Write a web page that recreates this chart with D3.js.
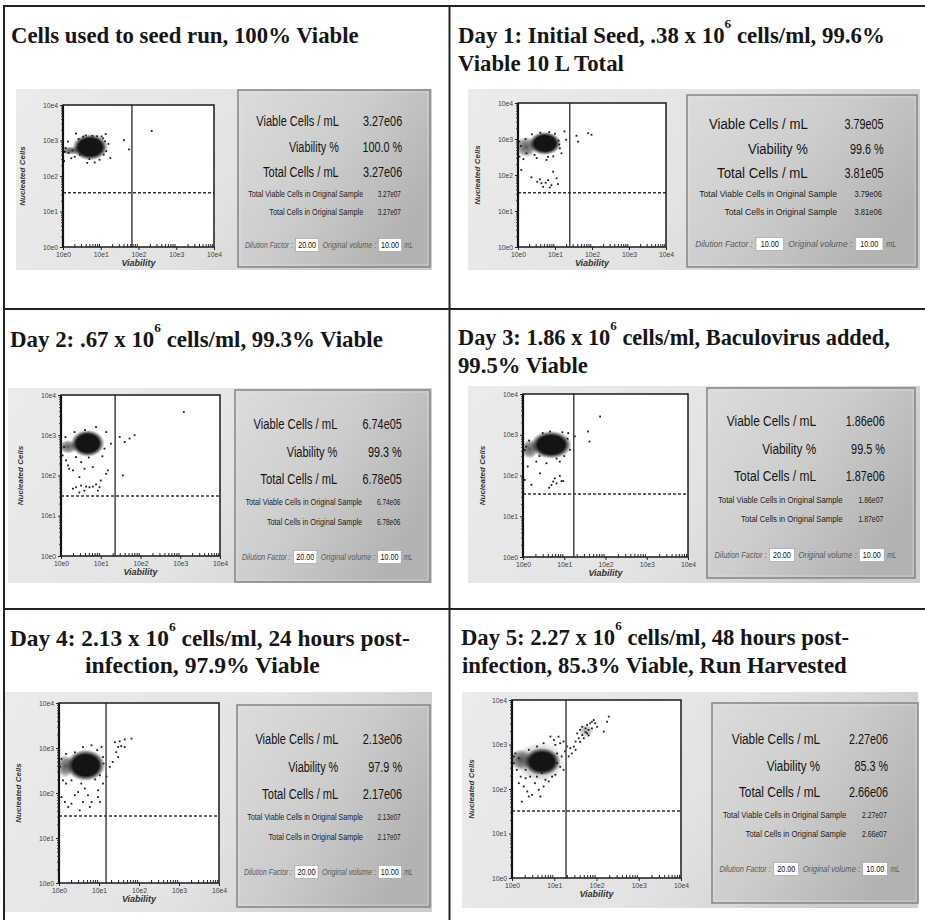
<!DOCTYPE html>
<html><head><meta charset="utf-8">
<script src="https://cdn.jsdelivr.net/npm/d3@7/dist/d3.min.js"></script>
<style>body{margin:0;background:#fff}</style>
</head><body>
<svg id="c" width="925" height="920"></svg>
<script>
// ---------------- DATA ----------------
const titleLines = [
  ["Cells used to seed run, 100% Viable"],
  ["Day 1: Initial Seed, .38 x 10^6 cells/ml, 99.6%", "Viable 10 L Total"],
  ["Day 2: .67 x 10^6 cells/ml, 99.3% Viable"],
  ["Day 3: 1.86 x 10^6 cells/ml, Baculovirus added,", "99.5% Viable"],
  ["Day 4: 2.13 x 10^6 cells/ml, 24 hours post-", "infection, 97.9% Viable"],
  ["Day 5: 2.27 x 10^6 cells/ml, 48 hours post-", "infection, 85.3% Viable, Run Harvested"]
];
const viableCells     = ["3.27e06", "3.79e05", "6.74e05", "1.86e06", "2.13e06", "2.27e06"];
const viabilityPct    = ["100.0 %", "99.6 %", "99.3 %", "99.5 %", "97.9 %", "85.3 %"];
const totalCells      = ["3.27e06", "3.81e05", "6.78e05", "1.87e06", "2.17e06", "2.66e06"];
const totalViableOrig = ["3.27e07", "3.79e06", "6.74e06", "1.86e07", "2.13e07", "2.27e07"];
const totalOrig       = ["3.27e07", "3.81e06", "6.78e06", "1.87e07", "2.17e07", "2.66e07"];
const dilutionFactor  = ["20.00", "10.00", "20.00", "20.00", "20.00", "20.00"];
const originalVolume  = ["10.00", "10.00", "10.00", "10.00", "10.00", "10.00"];
const infoLabels = ["Viable Cells / mL", "Viability %", "Total Cells / mL",
                    "Total Viable Cells in Original Sample", "Total Cells in Original Sample"];
const axisTicks  = [1, 10, 100, 1000, 10000];
const tickLabels = ["10e0", "10e1", "10e2", "10e3", "10e4"];
const xAxisTitle = "Viability";
const yAxisTitle = "Nucleated Cells";
const viabilityGate = [67, 25, 23, 17, 15, 19];
const nucleatedGate = [34, 32, 31, 35, 31, 32];

// dense clusters, as value ranges
const seedCores = [{x0:2.4,x1:11.5,y0:350,y1:1200,kind:"core"},{x0:1,x1:2.6,y0:420,y1:640,kind:"tail"}];
const day1Cores = [{x0:2.6,x1:11,y0:440,y1:1300,kind:"core"},{x0:1,x1:2.8,y0:360,y1:1000,kind:"tail"}];
const day2Cores = [{x0:2.3,x1:9.5,y0:360,y1:1100,kind:"core"},{x0:1,x1:2.3,y0:380,y1:700,kind:"tail"}];
const day3Cores = [{x0:2.1,x1:11,y0:320,y1:1000,kind:"core"},{x0:1,x1:2.1,y0:290,y1:680,kind:"tail"}];
const day4Cores = [{x0:2.05,x1:10.5,y0:230,y1:740,kind:"core"},{x0:1,x1:2.1,y0:250,y1:620,kind:"tail"}];
const day5Cores = [{x0:2.5,x1:10.6,y0:245,y1:690,kind:"core"},{x0:1,x1:2.6,y0:300,y1:700,kind:"tail"},
                   {x0:1.4,x1:15,y0:160,y1:1000,kind:"halo"},{x0:40,x1:80,y0:1500,y1:2700,kind:"halo"}];

// scattered events [viability, nucleated]
const seedPoints = [[2.2,1580],[13.5,1510],[41,1020],[56,560],[224,1860],[18,320],[1.07,263],[1.66,316],[2.04,347],
  [4.4,234],[6.9,240],[9.3,288],[1.17,617],[1.35,933],[11.5,1150],[3.4,1290],[14,500],[16,800],[8,1320],[2.8,400],
  [5,300],[1.4,450],[1.8,525],[1.12,480],[2.4,630],[12,400],[10.5,1300],[6,1350],[2.6,1100],[4,1400],[13,950]];
const day1Points = [[18,1620],[38,1230],[42,850],[79,1450],[97,1310],[13.5,550],[15,400],[1.23,138],[2.3,86],[3.3,65],
  [4.3,59],[5.6,61],[6.5,72],[8,52],[7.2,45],[8.9,124],[11,81],[12,56],[4.8,47],[3.9,76],[1.1,324],[1.4,275],[1.7,400],
  [3.2,295],[5.9,263],[1.1,850],[1.2,640],[20,950],[2.4,1350],[4,1500],[7,1550],[10,1400],[12.5,900],[13,700],[9,330],
  [6.5,320],[2.8,360],[1.6,1000]];
const day2Points = [[1.2,510],[1.1,316],[1.35,238],[1.6,147],[1.5,178],[2.4,288],[3.2,214],[2,134],[2.9,91],[3.9,147],
  [6.3,162],[2,47],[2.4,51],[3.2,56],[4.3,53],[5.2,51],[6.3,53],[7.6,60],[9.3,51],[8.5,42],[10,75],[13.7,110],[15,134],
  [2.9,38],[3.9,42],[36,100],[30,910],[40,680],[53,830],[71,1000],[1230,3800],[13.7,1200],[12.4,465],[18,620],[2.2,1200],
  [7.6,1600],[11,300],[5,280],[1.3,900],[4,1350]];
const day3Points = [[1.3,166],[1.1,78],[1.6,59],[2.6,113],[4.9,59],[5.4,71],[6.5,64],[7.8,98],[8.6,73],[9.4,73],[4.3,50],
  [5.9,85],[18,910],[38,1200],[41,680],[74,2800],[2.1,219],[3.7,200],[7.8,219],[6.5,260],[13.7,427],[12.5,1100],[4.5,1200],
  [1.2,510],[9,1150],[3,1100],[12,800],[2.5,300],[10,300],[1.1,420],[1.4,720]];
const day4Points = [[25,1350],[33,1410],[44,1550],[65,1620],[30,1050],[36,1100],[44,1050],[27,810],[30,630],[22,490],
  [18.6,380],[15.4,230],[10.5,247],[12.6,162],[1.26,191],[1.5,162],[1.15,81],[1.4,63],[1.7,49],[2.05,58],[2.5,89],[3,105],
  [3.3,41],[4,63],[4.4,126],[5.3,89],[5.9,49],[6.5,63],[9.5,115],[9.5,81],[10.5,63],[3.6,162],[2.05,191],[1.05,380],
  [1.15,575],[1.5,740],[4,1050],[6.5,1150],[11.5,1050],[12.6,630],[13,450],[8,200],[2.5,800],[9,900]];
const day5Points = [[35,1780],[41,2130],[46,1630],[55,2300],[60,2750],[65,2130],[71,3000],[78,3250],[86,3550],[93,3000],
  [50,1380],[38,1380],[32,1170],[60,1780],[78,2300],[103,2500],[178,3250],[195,4250],[148,1950],[29,900],[41,1150],
  [55,1900],[46,2500],[65,1600],[12.6,1500],[13.8,1070],[16.6,1170],[20,900],[18,700],[24,830],[22,540],[26,630],
  [15,540],[32,760],[9.8,1260],[10.6,980],[5.6,1070],[1.1,540],[1.1,380],[1.2,630],[1.3,270],[1.6,190],[1.45,135],
  [1.9,114],[1.7,52],[2.3,88],[2.5,68],[3,74],[3.5,135],[4.3,96],[4.7,68],[5.6,114],[6.2,162],[7.4,148],[8.9,190],
  [10.6,209],[13.8,316],[16.6,270],[11.7,380],[2.1,174],[2.7,190],[3.9,190],[5.1,229],[2.1,270],[8.1,316],[2.5,760],
  [3.9,900],[8.1,1510],[11.7,630],[1.45,490]];

const panelCores  = [seedCores, day1Cores, day2Cores, day3Cores, day4Cores, day5Cores];
const panelPoints = [seedPoints, day1Points, day2Points, day3Points, day4Points, day5Points];

// ---------------- LAYOUT (positions only) ----------------
const layout = [
  {title:[{x:11,y:43,w:348}], bg:[16,89,432,270], plot:[63,105,214,247], info:[238,90,430,267], rows:[120,245]},
  {title:[{x:458,y:43,w:427},{x:458,y:71,w:166}], bg:[468,89,920,270], plot:[518,103,666,247], info:[687,95,917,267], rows:[123,244]},
  {title:[{x:10,y:347,w:373}], bg:[8,388,432,583], plot:[61,395,220,556], info:[235,390,430,582], rows:[423,557]},
  {title:[{x:458,y:345,w:432},{x:458,y:373,w:130}], bg:[468,386,920,583], plot:[523,394,688,557], info:[707,388,915,578], rows:[420,555]},
  {title:[{x:10,y:646,w:400},{x:85,y:673,w:235}], bg:[4,692,432,912], plot:[59,703,219,883], info:[237,705,430,907], rows:[738,872]},
  {title:[{x:461,y:645,w:388},{x:462,y:673,w:385}], bg:[462,692,918,908], plot:[512,700,681,878], info:[712,703,918,903], rows:[738,869]}
];

// ---------------- DRAW ----------------
const svg = d3.select("#c");
const defs = svg.append("defs");
const bgG = defs.append("linearGradient").attr("id","bgG").attr("x1",0).attr("y1",0).attr("x2",1).attr("y2",0.3);
[[0,"#ebebeb"],[0.6,"#e3e3e3"],[1,"#cdcdcd"]].forEach(s=>bgG.append("stop").attr("offset",s[0]).attr("stop-color",s[1]));
const infG = defs.append("linearGradient").attr("id","infG").attr("x1",0).attr("y1",0).attr("x2",1).attr("y2",0.6);
[[0,"#dcdcdc"],[0.5,"#cdcdcd"],[1,"#b2b2b2"]].forEach(s=>infG.append("stop").attr("offset",s[0]).attr("stop-color",s[1]));
const radial = (id, stops) => {
  const r = defs.append("radialGradient").attr("id", id);
  stops.forEach(s => r.append("stop").attr("offset", s[0]).attr("stop-color", "#141414").attr("stop-opacity", s[1]));
};
radial("coreG", [[0,1],[0.66,1],[0.8,0.6],[0.92,0.2],[1,0]]);
radial("tailG", [[0,0.7],[0.6,0.45],[1,0]]);
radial("haloG", [[0,0.35],[0.6,0.22],[1,0]]);

const SANS = "'Liberation Sans', Arial, sans-serif";
const SERIF = "'Liberation Serif', 'Times New Roman', serif";

// text squeezed horizontally by a transform: fixed width (w) or fixed factor (k)
function sqText(parent, x, y, txt, o) {
  const gg = parent.append("g");
  const t = gg.append("text").attr("x", 0).attr("y", 0).attr("dy", "0.36em")
    .attr("text-anchor", o.anchor || "start").attr("font-family", SANS)
    .attr("font-size", o.size).attr("fill", o.fill || "#141414").text(txt);
  if (o.italic) t.attr("font-style", "italic");
  const len = t.node().getComputedTextLength();
  const k = o.w != null ? o.w / len : o.k;
  gg.attr("transform", `translate(${x},${y}) scale(${k},1)`);
  return gg;
}

layout.forEach((L, i) => {
  const g = svg.append("g");

  // ---- title ----
  L.title.forEach((ln, j) => {
    const tg = g.append("g");
    const t = tg.append("text").attr("x", 0).attr("y", 0)
      .attr("font-family", SERIF).attr("font-weight", "bold").attr("font-size", 23).attr("fill", "#161616");
    const parts = titleLines[i][j].split(/\^(\d)/);
    parts.forEach((p, k) => {
      if (k % 2 === 1) {
        t.append("tspan").attr("font-size", "0.58em").attr("dy", "-1.15em").text(p);
      } else if (p.length) {
        const ts = t.append("tspan").text(p);
        if (k > 0) ts.attr("dy", "0.667em");
      }
    });
    const len = t.node().getComputedTextLength();
    tg.attr("transform", `translate(${ln.x},${ln.y}) scale(${ln.w / len},1)`);
  });

  // ---- backdrop ----
  const [bx0, by0, bx1, by1] = L.bg;
  g.append("rect").attr("x", bx0).attr("y", by0).attr("width", bx1 - bx0).attr("height", by1 - by0).attr("fill", "url(#bgG)");

  // ---- plot ----
  const [px0, py0, px1, py1] = L.plot;
  const x = d3.scaleLog().domain([1, 1e4]).range([px0, px1]);
  const y = d3.scaleLog().domain([1, 1e4]).range([py1, py0]);
  g.append("rect").attr("x", px0).attr("y", py0).attr("width", px1 - px0).attr("height", py1 - py0).attr("fill", "#fff");

  const clipId = "clip" + i;
  defs.append("clipPath").attr("id", clipId).append("rect")
    .attr("x", px0).attr("y", py0).attr("width", px1 - px0).attr("height", py1 - py0);
  const pg = g.append("g").attr("clip-path", `url(#${clipId})`);

  const order = {halo: 0, tail: 1, core: 2};
  const grow = {halo: 1.15, tail: 1.3, core: 1.4};
  panelCores[i].slice().sort((a, b) => order[a.kind] - order[b.kind]).forEach(c => {
    const cx = (x(c.x0) + x(c.x1)) / 2, rx = (x(c.x1) - x(c.x0)) / 2;
    const cy = (y(c.y0) + y(c.y1)) / 2, ry = (y(c.y0) - y(c.y1)) / 2;
    pg.append("ellipse").attr("cx", cx).attr("cy", cy)
      .attr("rx", rx * grow[c.kind]).attr("ry", ry * grow[c.kind])
      .attr("fill", `url(#${c.kind}G)`);
  });

  pg.selectAll("rect.pt").data(panelPoints[i]).enter().append("rect").attr("class", "pt")
    .attr("x", d => x(d[0]) - 0.9).attr("y", d => y(d[1]) - 0.9)
    .attr("width", 1.8).attr("height", 1.8).attr("fill", "#1c1c1c");

  // gates
  g.append("line").attr("x1", x(viabilityGate[i])).attr("x2", x(viabilityGate[i]))
    .attr("y1", py0).attr("y2", py1).attr("stroke", "#444").attr("stroke-width", 1.5);
  g.append("line").attr("x1", px0).attr("x2", px1)
    .attr("y1", y(nucleatedGate[i])).attr("y2", y(nucleatedGate[i]))
    .attr("stroke", "#333").attr("stroke-width", 1.5).attr("stroke-dasharray", "3,2");

  // frame
  g.append("rect").attr("x", px0).attr("y", py0).attr("width", px1 - px0).attr("height", py1 - py0)
    .attr("fill", "none").attr("stroke", "#1a1a1a").attr("stroke-width", 1.5);
  g.append("line").attr("x1", px0).attr("x2", px0).attr("y1", py0).attr("y2", py1)
    .attr("stroke", "#111").attr("stroke-width", 2.2);

  // axes
  const minor = x.ticks().filter(v => Math.abs(Math.round(Math.log10(v)) - Math.log10(v)) > 1e-6);
  const styleAxis = a => {
    a.select(".domain").remove();
    a.selectAll("line").attr("stroke", "#222");
    a.selectAll("text").attr("font-family", SANS).attr("font-size", 6.8).attr("fill", "#444");
  };
  g.append("g").attr("transform", `translate(0,${py1})`)
    .call(d3.axisBottom(x).tickValues(axisTicks).tickFormat((d, k) => tickLabels[k]).tickSize(3).tickPadding(2))
    .call(styleAxis);
  g.append("g").attr("transform", `translate(0,${py1})`)
    .call(d3.axisBottom(x).tickValues(minor).tickFormat("").tickSize(-3)).call(styleAxis);
  g.append("g").attr("transform", `translate(${px0},0)`)
    .call(d3.axisLeft(y).tickValues(axisTicks).tickFormat((d, k) => tickLabels[k]).tickSize(3).tickPadding(2))
    .call(styleAxis);
  g.append("g").attr("transform", `translate(${px0},0)`)
    .call(d3.axisLeft(y).tickValues(minor).tickFormat("").tickSize(1.8)).call(styleAxis);

  g.append("text").attr("x", (px0 + px1) / 2).attr("y", py1 + 19).attr("text-anchor", "middle")
    .attr("font-family", SANS).attr("font-weight", "bold").attr("font-style", "italic")
    .attr("font-size", 9).attr("fill", "#333").text(xAxisTitle);
  g.append("text").attr("transform", `translate(${px0 - 38},${(py0 + py1) / 2}) rotate(-90)`)
    .attr("text-anchor", "middle").attr("font-family", SANS).attr("font-weight", "bold")
    .attr("font-style", "italic").attr("font-size", 8).attr("fill", "#333").text(yAxisTitle);

  // ---- info box ----
  const [ix0, iy0, ix1, iy1] = L.info;
  const W = ix1 - ix0;
  g.append("rect").attr("x", ix0).attr("y", iy0).attr("width", W).attr("height", iy1 - iy0)
    .attr("fill", "url(#infG)").attr("stroke", "#8a8a8a").attr("stroke-width", 1.6);
  g.append("rect").attr("x", ix0 + 2).attr("y", iy0 + 2).attr("width", W - 4).attr("height", iy1 - iy0 - 4)
    .attr("fill", "none").attr("stroke", "#e6e6e6").attr("stroke-width", 0.8).attr("opacity", 0.6);

  const [r0, r1] = L.rows;
  const fr = [0, 0.21, 0.41, 0.59, 0.735, 1];
  const ry = k => r0 + fr[k] * (r1 - r0);
  const bigVals = [viableCells[i], viabilityPct[i], totalCells[i]];
  const bigW = [0.43, 0.26, 0.395];
  bigVals.forEach((v, k) => {
    sqText(g, ix0 + 0.525 * W, ry(k), infoLabels[k], {anchor: "end", size: 15.5, w: bigW[k] * W});
    sqText(g, ix0 + 0.855 * W, ry(k), v, {anchor: "end", size: 15.5, k: 0.7});
  });
  const smallVals = [totalViableOrig[i], totalOrig[i]];
  const smallW = [0.6, 0.49];
  smallVals.forEach((v, k) => {
    sqText(g, ix0 + 0.652 * W, ry(k + 3), infoLabels[k + 3], {anchor: "end", size: 8.5, fill: "#1c1c1c", w: smallW[k] * W});
    sqText(g, ix0 + 0.848 * W, ry(k + 3), v, {anchor: "end", size: 8.5, fill: "#1c1c1c", w: 0.12 * W});
  });
  // dilution row
  const dy5 = ry(5);
  const ital = (tx, x0, w) => sqText(g, ix0 + x0 * W, dy5, tx, {size: 9, fill: "#5a5a5a", italic: true, w: w * W});
  ital("Dilution Factor :", 0.036, 0.25);
  ital("Original volume :", 0.44, 0.28);
  ital("mL", 0.866, 0.045);
  [[0.30, dilutionFactor[i]], [0.732, originalVolume[i]]].forEach(([bx, v]) => {
    g.append("rect").attr("x", ix0 + bx * W).attr("y", dy5 - 6.5).attr("width", 0.12 * W).attr("height", 13)
      .attr("fill", "#fff").attr("stroke", "#9a9a9a").attr("stroke-width", 0.6);
    sqText(g, ix0 + (bx + 0.06) * W, dy5, v, {anchor: "middle", size: 9, fill: "#111", k: 0.8});
  });
});

// ---- panel grid lines ----
const gridLines = [
  [3, 6, 925, 6], [4, 5, 4, 920], [449.5, 5, 449.5, 920], [4, 309, 925, 309], [4, 609, 925, 609]
];
svg.append("g").selectAll("line").data(gridLines).enter().append("line")
  .attr("x1", d => d[0]).attr("y1", d => d[1]).attr("x2", d => d[2]).attr("y2", d => d[3])
  .attr("stroke", "#222").attr("stroke-width", 2);
</script>
</body></html>
